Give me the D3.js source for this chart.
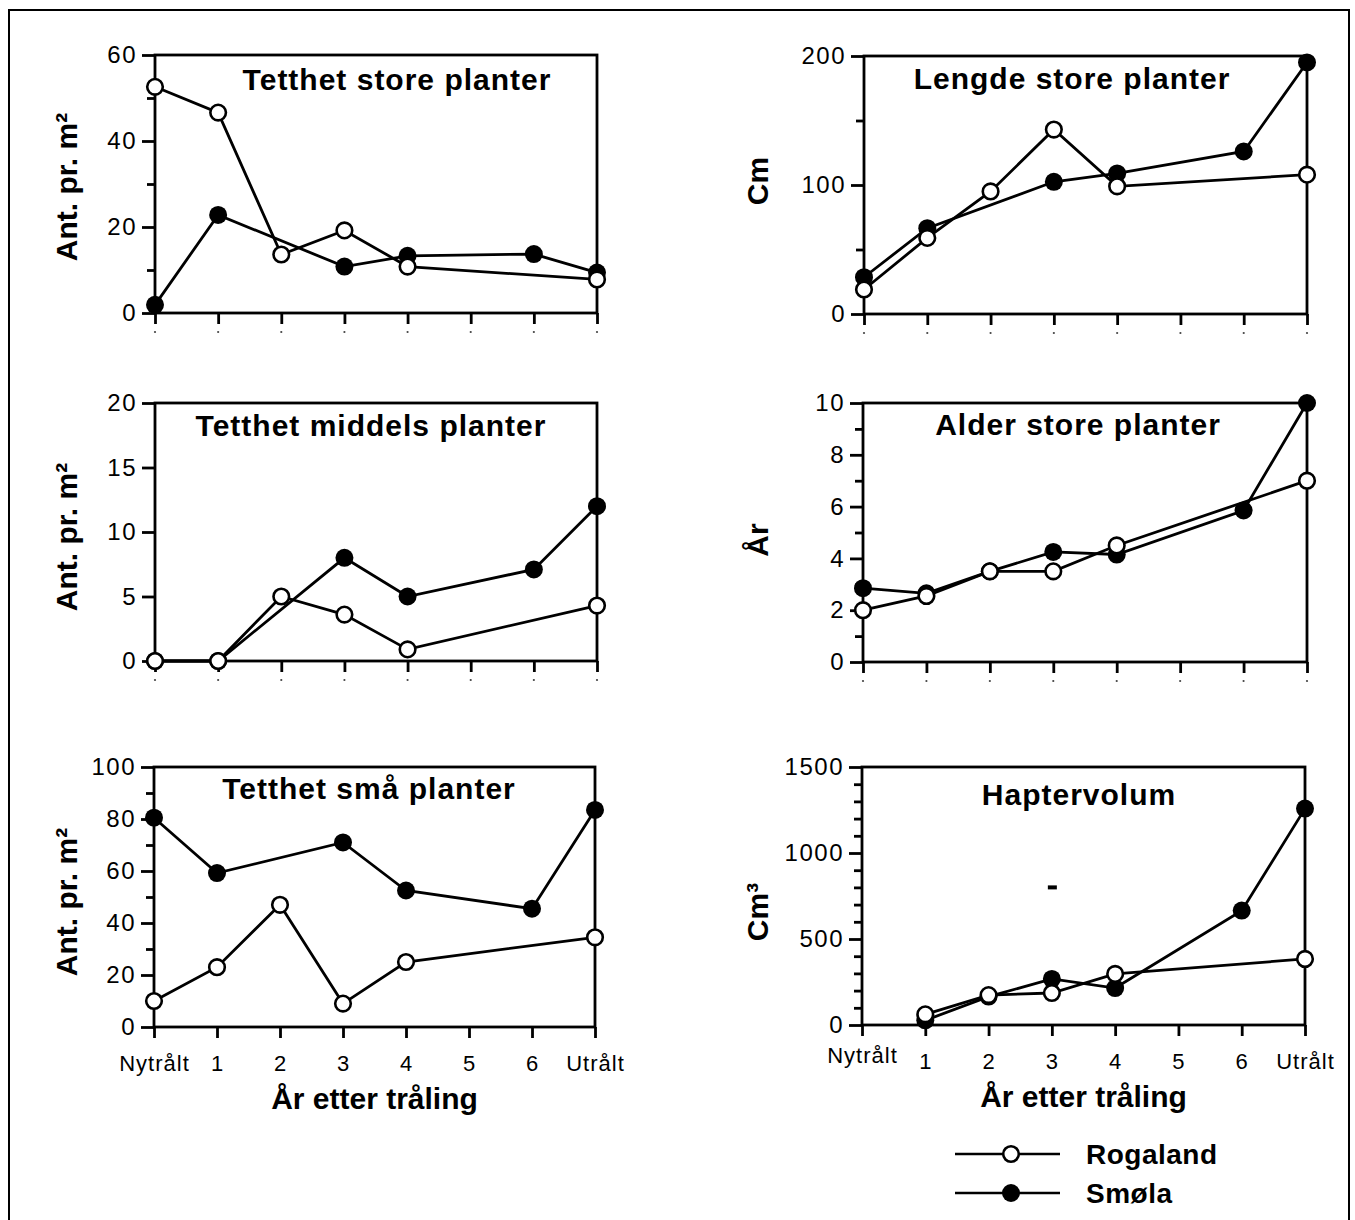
<!DOCTYPE html>
<html>
<head>
<meta charset="utf-8">
<script src="https://cdn.jsdelivr.net/npm/d3@7"></script>
<style>
  body { margin: 0; background: #fff; }
  svg { display: block; font-family: "Liberation Sans", Arial, Helvetica, sans-serif; }
  .tick text { font-size: 24px; letter-spacing: 1.5px; fill: #000; font-family: "Liberation Sans", Arial, sans-serif; }
  .xt .tick text { font-size: 22px; letter-spacing: 1px; }
  .tick line { stroke: #000; stroke-width: 2.8; }
  .title { font-size: 30px; font-weight: bold; letter-spacing: 1px; }
  .ylab { font-size: 30px; font-weight: bold; }
  .xlab { font-size: 30px; font-weight: bold; }
  .legend text { font-size: 28px; font-weight: bold; letter-spacing: 0.5px; }
</style>
</head>
<body>
<script>
// categories on every x axis
const categories = ['Nytrålt', '1', '2', '3', '4', '5', '6', 'Utrålt'];
const seriesNames = ['Rogaland', 'Smøla'];

// Tetthet store planter (Ant. pr. m2)
const storeTetthetRogaland = [52.6, 46.6, 13.6, 19.2, 10.8, null, null, 7.8];
const storeTetthetSmola    = [1.9, 22.8, null, 10.8, 13.3, null, 13.7, 9.4];
// Lengde store planter (Cm)
const lengdeRogaland = [19, 59, 95, 143, 99, null, null, 108];
const lengdeSmola    = [28.5, 66.5, null, 102.5, 109, null, 126, 195];
// Tetthet middels planter
const middelsRogaland = [0, 0, 5.0, 3.6, 0.9, null, null, 4.3];
const middelsSmola    = [0, 0, null, 8.0, 5.0, null, 7.1, 12.0];
// Alder store planter (År)
const alderRogaland = [2.0, 2.55, 3.5, 3.5, 4.5, null, null, 7.0];
const alderSmola    = [2.85, 2.65, 3.5, 4.25, 4.15, null, 5.85, 10.0];
// Tetthet små planter
const smaRogaland = [10, 23, 47, 9, 25, null, null, 34.5];
const smaSmola    = [80.5, 59.2, null, 71, 52.5, null, 45.5, 83.5];
// Haptervolum (Cm3)
const hapterRogaland = [null, 62, 174, 186, 297, null, null, 384];
const hapterSmola    = [null, 27, 165, 268, 215, null, 665, 1258];

// y ticks
const ticksStore = [0, 20, 40, 60],           minorStore = [10, 30, 50];
const ticksLengde = [0, 100, 200],            minorLengde = [50, 150];
const ticksMiddels = [0, 5, 10, 15, 20],      minorMiddels = [];
const ticksAlder = [0, 2, 4, 6, 8, 10],       minorAlder = [1, 3, 5, 7, 9];
const ticksSma = [0, 20, 40, 60, 80, 100],    minorSma = [10, 30, 50, 70, 90];
const ticksHapter = [0, 500, 1000, 1500],     minorHapter = [100, 200, 300, 400, 600, 700, 800, 900, 1100, 1200, 1300, 1400];

const svg = d3.select('body').append('svg')
  .attr('width', 1355)
  .attr('height', 1220);

svg.append('rect').attr('width', 1355).attr('height', 1220).attr('fill', '#fff');
// outer frame
svg.append('rect')
  .attr('x', 9).attr('y', 10).attr('width', 1340).attr('height', 1240)
  .attr('fill', 'none').attr('stroke', '#000').attr('stroke-width', 2);

const panels = [
  { title: 'Tetthet store planter', ylabel: 'Ant. pr. m²', rog: storeTetthetRogaland, smo: storeTetthetSmola,
    ticks: ticksStore, minor: minorStore, left: 155, right: 597, top: 55, bottom: 313,
    titleX: 397, titleY: 90, labX: 77, labY: 187, showX: false },
  { title: 'Lengde store planter', ylabel: 'Cm', rog: lengdeRogaland, smo: lengdeSmola,
    ticks: ticksLengde, minor: minorLengde, left: 864, right: 1307, top: 56, bottom: 314,
    titleX: 1072, titleY: 89, labX: 768, labY: 181, showX: false },
  { title: 'Tetthet middels  planter', ylabel: 'Ant. pr. m²', rog: middelsRogaland, smo: middelsSmola,
    ticks: ticksMiddels, minor: minorMiddels, left: 155, right: 597, top: 403, bottom: 661,
    titleX: 371, titleY: 436, labX: 77, labY: 537, showX: false },
  { title: 'Alder store planter', ylabel: 'År', rog: alderRogaland, smo: alderSmola,
    ticks: ticksAlder, minor: minorAlder, left: 863, right: 1307, top: 403, bottom: 662,
    titleX: 1078, titleY: 435, labX: 768, labY: 540, showX: false },
  { title: 'Tetthet små planter', ylabel: 'Ant. pr. m²', rog: smaRogaland, smo: smaSmola,
    ticks: ticksSma, minor: minorSma, left: 154, right: 595, top: 767, bottom: 1027,
    titleX: 369, titleY: 799, labX: 77, labY: 902, showX: true },
  { title: 'Haptervolum', ylabel: 'Cm³', rog: hapterRogaland, smo: hapterSmola,
    ticks: ticksHapter, minor: minorHapter, left: 862, right: 1305, top: 767, bottom: 1025,
    titleX: 1079, titleY: 805, labX: 768, labY: 912, showX: true }
];

function drawPanel(p, i) {
  const x = d3.scalePoint().domain(categories).range([p.left, p.right]);
  const y = d3.scaleLinear().domain(d3.extent(p.ticks)).range([p.bottom, p.top]);
  const g = svg.append('g');

  // y ticks, minor then major
  if (p.minor.length) {
    g.append('g')
      .attr('transform', `translate(${p.left},0)`)
      .call(d3.axisLeft(y).tickValues(p.minor).tickSize(8).tickFormat(''))
      .call(s => s.select('.domain').remove());
  }
  g.append('g')
    .attr('transform', `translate(${p.left},0)`)
    .call(d3.axisLeft(y).tickValues(p.ticks).tickSize(13).tickPadding(5).tickFormat(d3.format('d')))
    .call(s => s.select('.domain').remove());

  // x ticks
  const xAxis = d3.axisBottom(x).tickSize(11).tickPadding(17);
  if (!p.showX) xAxis.tickFormat('');
  const xg = g.append('g').attr('class', 'xt')
    .attr('transform', `translate(0,${p.bottom})`)
    .call(xAxis)
    .call(s => s.select('.domain').remove());
  if (i === 5) xg.select('.tick text').attr('dy', '0.45em');

  // tiny scan dots under the unlabeled ticks
  if (!p.showX) {
    g.append('g').selectAll('circle')
      .data(categories)
      .join('circle')
      .attr('cx', d => x(d))
      .attr('cy', p.bottom + 19)
      .attr('r', 1.1)
      .attr('fill', '#444');
  }

  // frame
  g.append('rect')
    .attr('x', p.left).attr('y', p.top)
    .attr('width', p.right - p.left).attr('height', p.bottom - p.top)
    .attr('fill', 'none').attr('stroke', '#000').attr('stroke-width', 2.8);

  // title and y label
  g.append('text').attr('class', 'title')
    .attr('x', p.titleX).attr('y', p.titleY)
    .attr('text-anchor', 'middle')
    .text(p.title);

  g.append('text').attr('class', 'ylab')
    .attr('transform', `translate(${p.labX},${p.labY}) rotate(-90)`)
    .attr('text-anchor', 'middle')
    .text(p.ylabel);

  if (p.showX) {
    g.append('text').attr('class', 'xlab')
      .attr('x', (p.left + p.right) / 2)
      .attr('y', p.bottom + 82)
      .attr('text-anchor', 'middle')
      .text('År etter tråling');
  }

  const pts = vals => categories.map((c, k) => ({ c, v: vals[k] })).filter(d => d.v != null);
  const line = d3.line().x(d => x(d.c)).y(d => y(d.v));

  [p.smo, p.rog].forEach(vals => {
    g.append('path')
      .datum(pts(vals))
      .attr('d', line)
      .attr('fill', 'none')
      .attr('stroke', '#000')
      .attr('stroke-width', 2.8);
  });

  g.append('g').selectAll('circle')
    .data(pts(p.smo))
    .join('circle')
    .attr('cx', d => x(d.c)).attr('cy', d => y(d.v))
    .attr('r', 9).attr('fill', '#000');

  g.append('g').selectAll('circle')
    .data(pts(p.rog))
    .join('circle')
    .attr('cx', d => x(d.c)).attr('cy', d => y(d.v))
    .attr('r', 7.8).attr('fill', '#fff')
    .attr('stroke', '#000').attr('stroke-width', 2.6);

  // the stray dash in the Haptervolum panel
  if (i === 5) {
    g.append('rect')
      .attr('x', x('3') - 4).attr('y', y(800) - 2)
      .attr('width', 9).attr('height', 4)
      .attr('fill', '#000');
  }
}

panels.forEach(drawPanel);

// legend
const legend = svg.append('g').attr('class', 'legend');
seriesNames.forEach((name, k) => {
  const ly = 1154 + k * 39;
  legend.append('line')
    .attr('x1', 955).attr('x2', 1060).attr('y1', ly).attr('y2', ly)
    .attr('stroke', '#000').attr('stroke-width', 2.5);
  legend.append('circle')
    .attr('cx', 1011).attr('cy', ly)
    .attr('r', k === 0 ? 7.8 : 9)
    .attr('fill', k === 0 ? '#fff' : '#000')
    .attr('stroke', '#000').attr('stroke-width', k === 0 ? 2.6 : 0);
  legend.append('text')
    .attr('x', 1086).attr('y', ly + 10)
    .text(name);
});
</script>
</body>
</html>
